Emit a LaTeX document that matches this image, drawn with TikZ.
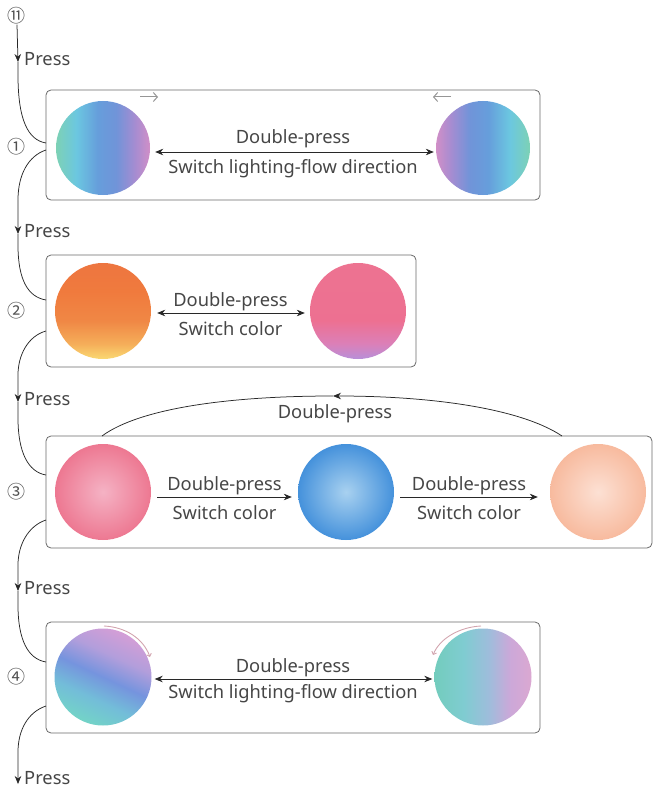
\documentclass[tikz,border=0pt]{standalone}
\usepackage{fontspec}
\setmainfont{Noto Sans}
\newfontfamily\cjk{Noto Sans CJK SC}
\usetikzlibrary{arrows.meta}
\definecolor{txtgray}{RGB}{70,70,70}
\definecolor{boxgray}{RGB}{105,105,105}
\definecolor{arrowc}{RGB}{40,40,40}
\definecolor{numgray}{RGB}{80,80,80}
\definecolor{hintgray}{RGB}{150,150,150}
\definecolor{hintpink}{RGB}{210,165,175}
\pgfdeclarehorizontalshading{flowL}{100bp}{rgb(0bp)=(0.49,0.82,0.71); rgb(25bp)=(0.49,0.82,0.71); rgb(36bp)=(0.42,0.78,0.88); rgb(47bp)=(0.40,0.62,0.86); rgb(57bp)=(0.44,0.58,0.85); rgb(67bp)=(0.65,0.55,0.82); rgb(75bp)=(0.82,0.56,0.78); rgb(100bp)=(0.82,0.56,0.78)}
\pgfdeclarehorizontalshading{flowR}{100bp}{rgb(0bp)=(0.82,0.56,0.78); rgb(25bp)=(0.82,0.56,0.78); rgb(33bp)=(0.65,0.55,0.82); rgb(43bp)=(0.44,0.58,0.85); rgb(53bp)=(0.40,0.62,0.86); rgb(64bp)=(0.42,0.78,0.88); rgb(75bp)=(0.49,0.82,0.71); rgb(100bp)=(0.49,0.82,0.71)}
\pgfdeclareverticalshading{sunset}{100bp}{rgb(0bp)=(0.98,0.85,0.45); rgb(25bp)=(0.98,0.85,0.45); rgb(33bp)=(0.96,0.68,0.35); rgb(45bp)=(0.94,0.53,0.27); rgb(60bp)=(0.94,0.48,0.24); rgb(75bp)=(0.93,0.46,0.25); rgb(100bp)=(0.93,0.46,0.25)}
\pgfdeclareverticalshading{rosy}{100bp}{rgb(0bp)=(0.72,0.56,0.85); rgb(25bp)=(0.72,0.56,0.85); rgb(33bp)=(0.86,0.50,0.72); rgb(45bp)=(0.93,0.44,0.57); rgb(75bp)=(0.93,0.45,0.57); rgb(100bp)=(0.93,0.45,0.57)}
\pgfdeclareverticalshading{auroraL}{100bp}{rgb(0bp)=(0.45,0.83,0.78); rgb(25bp)=(0.45,0.83,0.78); rgb(38bp)=(0.45,0.74,0.85); rgb(50bp)=(0.46,0.58,0.87); rgb(62bp)=(0.70,0.62,0.86); rgb(75bp)=(0.83,0.62,0.84); rgb(100bp)=(0.83,0.62,0.84)}
\pgfdeclarehorizontalshading{auroraR}{100bp}{rgb(0bp)=(0.45,0.80,0.74); rgb(25bp)=(0.45,0.80,0.74); rgb(40bp)=(0.50,0.80,0.82); rgb(53bp)=(0.62,0.74,0.86); rgb(64bp)=(0.80,0.66,0.85); rgb(75bp)=(0.86,0.66,0.82); rgb(100bp)=(0.86,0.66,0.82)}
\begin{document}
\begin{tikzpicture}[x=1pt,y=-1pt,
  box/.style={draw=boxgray, line width=0.8pt, rounded corners=5pt, inner sep=0pt},
  ball/.style={circle, minimum size=96pt, inner sep=0pt},
  lbl/.style={text=txtgray, font=\fontsize{18.3}{21}\selectfont, inner sep=1pt},
  conn/.style={draw=arrowc, line width=0.75pt},
  tipe/.style={-{Stealth[length=8pt,width=6.5pt]}},
  tipb/.style={{Stealth[length=8pt,width=6.5pt]}-{Stealth[length=8pt,width=6.5pt]}},
  num/.style={text=numgray, font=\cjk\fontsize{18}{18}\selectfont, inner sep=0pt},
  hint/.style={line width=1pt, -{Straight Barb[length=4pt,width=9pt]}}
]
\useasboundingbox (0,0) rectangle (654,789);

% boxes
\node[box, minimum width=494pt, minimum height=110pt] (b1) at (293,145) {};
\node[box, minimum width=370pt, minimum height=112pt] (b2) at (231,311) {};
\node[box, minimum width=606pt, minimum height=112pt] (b3) at (349,492) {};
\node[box, minimum width=494pt, minimum height=111pt] (b4) at (293,677.5) {};

% balls
\node[ball, minimum size=94pt, shading=flowL] (c1a) at (103,148) {};
\node[ball, minimum size=94pt, shading=flowR] (c1b) at (483,148) {};
\node[ball, shading=sunset] (c2a) at (103,311) {};
\node[ball, shading=rosy] (c2b) at (358,311) {};
\node[ball, shading=radial, inner color={rgb,1:red,0.96;green,0.70;blue,0.77}, outer color={rgb,1:red,0.93;green,0.47;blue,0.57}] (c3a) at (103,492) {};
\node[ball, shading=radial, inner color={rgb,1:red,0.66;green,0.82;blue,0.94}, outer color={rgb,1:red,0.27;green,0.57;blue,0.86}] (c3b) at (346,492) {};
\node[ball, shading=radial, inner color={rgb,1:red,0.99;green,0.88;blue,0.83}, outer color={rgb,1:red,0.97;green,0.73;blue,0.62}] (c3c) at (598,492) {};
\node[ball, minimum size=97pt, shading=auroraL, shading angle=-25] (c4a) at (103,677) {};
\node[ball, minimum size=97pt, shading=auroraR] (c4b) at (483,677) {};

% circled numbers
\node[num] (n11) at (17,16) {⑪};
\node[num] (n1) at (16,147) {①};
\node[num] (n2) at (16,311) {②};
\node[num] (n3) at (16,492) {③};
\node[num] (n4) at (16,677) {④};

% horizontal arrows with labels
\draw[conn, tipb, shorten <=5pt, shorten >=2pt] ([yshift=-4pt]c1a.east) -- ([yshift=-4pt]c1b.west)
  node[lbl, midway, above=3pt] (t1a) {Double-press}
  node[lbl, midway, below=6pt] (t1b) {Switch lighting-flow direction};
\draw[conn, tipb, shorten <=6pt, shorten >=5pt] ([yshift=-2pt]c2a.east) -- ([yshift=-2pt]c2b.west)
  node[lbl, midway, above=1pt] (t2a) {Double-press}
  node[lbl, midway, below=7pt] (t2b) {Switch color};
\draw[conn, tipe, shorten <=6pt, shorten >=6pt] ([yshift=-5pt]c3a.east) -- ([yshift=-5pt]c3b.west)
  node[lbl, midway, above=1pt] (t3a) {Double-press}
  node[lbl, midway, below=7pt] (t3b) {Switch color};
\draw[conn, tipe, shorten <=6pt, shorten >=12pt] ([yshift=-5pt]c3b.east) -- ([yshift=-5pt]c3c.west)
  node[lbl, midway, xshift=-3pt, above=1pt] (t3c) {Double-press}
  node[lbl, midway, xshift=-3pt, below=7pt] (t3d) {Switch color};
\draw[conn, tipb, shorten <=3pt, shorten >=2pt] ([yshift=-2pt]c4a.east) -- ([yshift=-2pt]c4b.west)
  node[lbl, midway, above=1pt] (t4a) {Double-press}
  node[lbl, midway, below=4pt] (t4b) {Switch lighting-flow direction};

% top arc in box 3
\coordinate (arcR) at (562,436);
\coordinate (arcM) at (333,396);
\coordinate (arcL) at (102,436);
\draw[conn, tipe] (arcR) .. controls (520,408) and (430,396) .. (arcM);
\draw[conn] (arcM) .. controls (230,396) and (140,408) .. (arcL);
\node[lbl] (tarc) at (335,414) {Double-press};

% hint arrows box 1
\coordinate (h1s) at (140,97); \coordinate (h1e) at (158,97);
\coordinate (h2s) at (451,97); \coordinate (h2e) at (433,97);
\draw[hint, hintgray] (h1s) -- (h1e);
\draw[hint, hintgray] (h2s) -- (h2e);
% hint arcs box 4
\draw[hintpink, line width=0.9pt, -{Straight Barb[length=2.5pt,width=5pt]}] (104,626) .. controls (125,627) and (143,638) .. (150,657);
\draw[hintpink, line width=0.9pt, -{Straight Barb[length=2.5pt,width=5pt]}] (481,626) .. controls (460,627) and (440,638) .. (433,655);

% left flow connectors
\coordinate (p0) at (18,62);
\coordinate (b1in) at (46,143);
\coordinate (b1out) at (46,150);
\coordinate (p1) at (18,234);
\coordinate (b2in) at (46,300);
\coordinate (b2out) at (46,331);
\coordinate (p2) at (18,402);
\coordinate (b3in) at (46,475);
\coordinate (b3out) at (46,520);
\coordinate (p3) at (18,591);
\coordinate (b4in) at (46,662);
\coordinate (b4out) at (46,706);
\coordinate (p4) at (18,784);

\draw[conn, tipe] (n11.south) -- (p0);
\draw[conn] (p0) -- (18,75) .. controls (18,120) and (28,140) .. (b1in);
\draw[conn, tipe] (b1out) .. controls (28,156) and (18,175) .. (18,200) -- (p1);
\draw[conn] (p1) -- (18,245) .. controls (18,280) and (28,297) .. (b2in);
\draw[conn, tipe] (b2out) .. controls (28,336) and (18,355) .. (18,375) -- (p2);
\draw[conn] (p2) -- (18,418) .. controls (18,452) and (28,472) .. (b3in);
\draw[conn, tipe] (b3out) .. controls (28,526) and (18,545) .. (18,565) -- (p3);
\draw[conn] (p3) -- (18,605) .. controls (18,640) and (28,659) .. (b4in);
\draw[conn, tipe] (b4out) .. controls (28,712) and (18,730) .. (18,752) -- (p4);

\node[lbl, anchor=west] (pr0) at (23,59) {Press};
\node[lbl, anchor=west] (pr1) at (23,231) {Press};
\node[lbl, anchor=west] (pr2) at (23,399) {Press};
\node[lbl, anchor=west] (pr3) at (23,588) {Press};
\node[lbl, anchor=west] (pr4) at (23,778) {Press};
\end{tikzpicture}
\end{document}
